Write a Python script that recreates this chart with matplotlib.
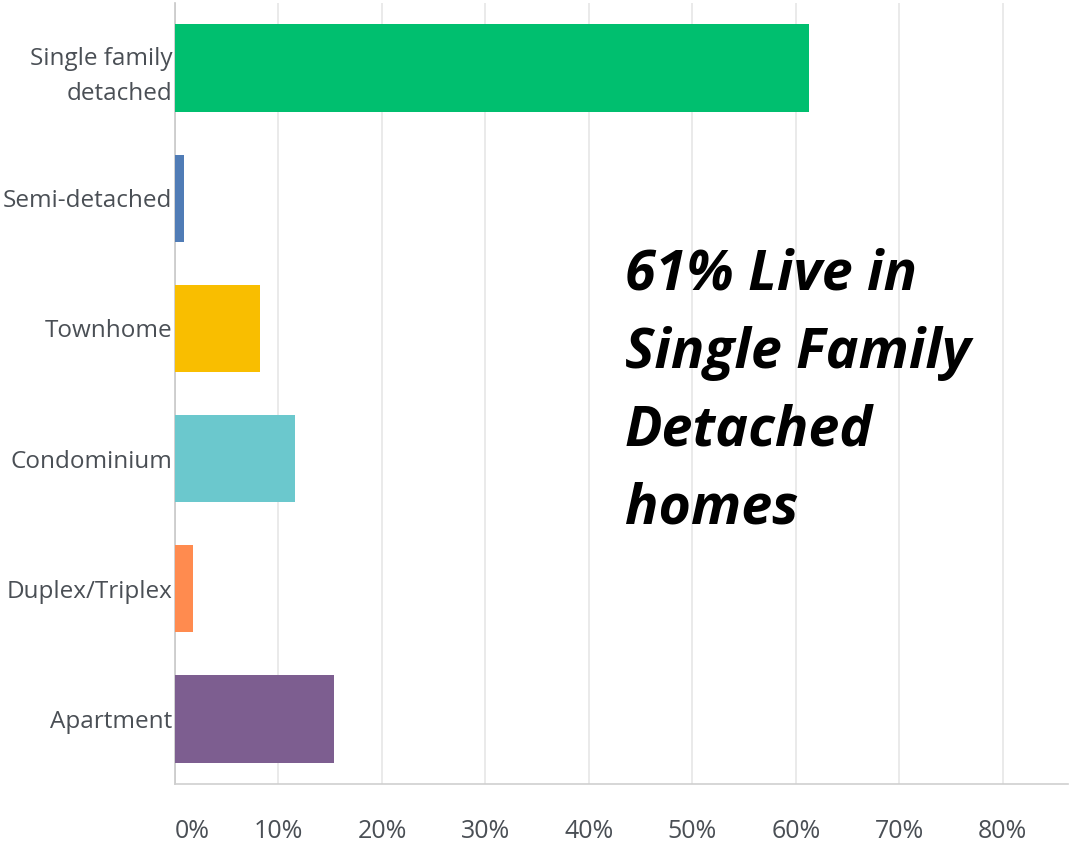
import matplotlib
matplotlib.use("Agg")
import matplotlib.pyplot as plt
from matplotlib.ticker import FixedLocator

categories = ["Single family\ndetached", "Semi-detached", "Townhome", "Condominium", "Duplex/Triplex", "Apartment"]
values = [61.3, 0.9, 8.2, 11.6, 1.7, 15.4]
colors = ["#00BF6F", "#507CB6", "#F9BE00", "#6BC8CD", "#FF8B4F", "#7D5E90"]
xticks = [0, 10, 20, 30, 40, 50, 60, 70, 80]
xtick_labels = ["0%", "10%", "20%", "30%", "40%", "50%", "60%", "70%", "80%"]
annotation = "61% Live in\nSingle Family\nDetached\nhomes"

fig = plt.figure(figsize=(10.73, 8.42), dpi=100)
ax = fig.add_axes([175/1073, 1-784/842, (1068-175)/1073, (784-3)/842])

ypos = list(range(len(categories)))
ax.barh(ypos, values, height=0.67, color=colors, zorder=3)
ax.set_ylim(len(categories)-0.5, -0.5)
ax.set_xlim(0, 86.3)
ax.set_yticks(ypos)
ax.set_yticklabels(categories, fontsize=17.5, color="#4a4f55", family="Open Sans", linespacing=1.6)
ax.xaxis.set_major_locator(FixedLocator(xticks))
ax.set_xticklabels(xtick_labels, fontsize=18, color="#4a4f55", family="Open Sans")
lbls = ax.get_xticklabels()
lbls[0].set_horizontalalignment("left")
ax.tick_params(axis="x", length=0, pad=25)
ax.tick_params(axis="y", length=0, pad=2)
ax.grid(axis="x", color="#e6e6e6", linewidth=1.2, zorder=0)
for s in ["top", "right"]:
    ax.spines[s].set_visible(False)
ax.spines["left"].set_color("#c8c8c8")
ax.spines["bottom"].set_color("#cfcfcf")
ax.spines["left"].set_linewidth(1.2)
ax.spines["bottom"].set_linewidth(1.2)

fig.text(625/1073, 1-248/842, annotation, fontsize=40, fontweight="bold", fontstyle="italic",
         family="Open Sans", color="black", va="top", ha="left", linespacing=1.54)

fig.savefig("out.png", dpi=100)
